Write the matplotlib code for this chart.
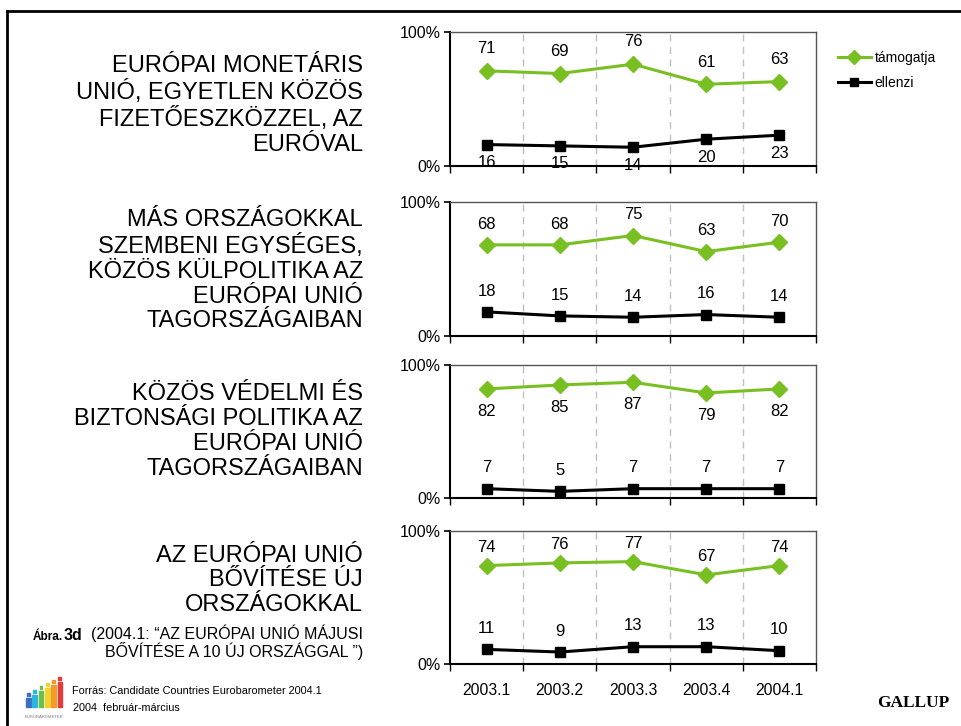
import matplotlib
matplotlib.use("Agg")
import matplotlib.pyplot as plt
from matplotlib.lines import Line2D
from matplotlib.patches import Rectangle

plt.rcParams['font.family'] = ['Liberation Sans', 'DejaVu Sans']

# ---------------- data ----------------
periods = ["2003.1", "2003.2", "2003.3", "2003.4", "2004.1"]
series_names = ["támogatja", "ellenzi"]

titles = [
    "EURÓPAI MONETÁRIS\nUNIÓ, EGYETLEN KÖZÖS\nFIZETŐESZKÖZZEL, AZ\nEURÓVAL",
    "MÁS ORSZÁGOKKAL\nSZEMBENI EGYSÉGES,\nKÖZÖS KÜLPOLITIKA AZ\nEURÓPAI UNIÓ\nTAGORSZÁGAIBAN",
    "KÖZÖS VÉDELMI ÉS\nBIZTONSÁGI POLITIKA AZ\nEURÓPAI UNIÓ\nTAGORSZÁGAIBAN",
    "AZ EURÓPAI UNIÓ\nBŐVÍTÉSE ÚJ\nORSZÁGOKKAL",
]

support_1 = [71, 69, 76, 61, 63]
oppose_1 = [16, 15, 14, 20, 23]
support_2 = [68, 68, 75, 63, 70]
oppose_2 = [18, 15, 14, 16, 14]
support_3 = [82, 85, 87, 79, 82]
oppose_3 = [7, 5, 7, 7, 7]
support_4 = [74, 76, 77, 67, 74]
oppose_4 = [11, 9, 13, 13, 10]

supports = [support_1, support_2, support_3, support_4]
opposes = [oppose_1, oppose_2, oppose_3, oppose_4]

y_tick_labels = ["0%", "100%"]

# ---------------- styling ----------------
GREEN = "#78C022"
BLACK = "#000000"
W, H = 961, 726

fig = plt.figure(figsize=(W / 100, H / 100), dpi=100)
fig.patch.set_facecolor("white")

# panel geometry in pixels (top, bottom)
panels_px = [(32, 166), (202, 336), (365, 498), (531, 664)]
ax_left, ax_right = 450, 816
title_centers = [105.5, 270.5, 431.5, 580.5]
# label offsets (points): +above, -below
sup_off = [16, 15, -16, 13]
opp_off = [-13, 15, 15, 15]

xs = list(range(len(periods)))
axes = []
for i, (top, bot) in enumerate(panels_px):
    ax = fig.add_axes([ax_left / W, 1 - bot / H, (ax_right - ax_left) / W, (bot - top) / H])
    axes.append(ax)
    ax.set_xlim(-0.5, len(periods) - 0.5)
    ax.set_ylim(0, 100)
    ax.plot(xs, supports[i], color=GREEN, lw=2.2, marker="D", markersize=8,
            markeredgecolor=GREEN, markerfacecolor=GREEN, label=series_names[0],
            zorder=3, clip_on=False)
    ax.plot(xs, opposes[i], color=BLACK, lw=2.2, marker="s", markersize=7,
            label=series_names[1], zorder=3, clip_on=False)
    for x, v in zip(xs, supports[i]):
        ax.annotate(str(v), (x, v), xytext=(0, sup_off[i]), textcoords="offset points",
                    ha="center", va="center", fontsize=12, annotation_clip=False)
    for x, v in zip(xs, opposes[i]):
        ax.annotate(str(v), (x, v), xytext=(0, opp_off[i]), textcoords="offset points",
                    ha="center", va="center", fontsize=12, annotation_clip=False)
    # vertical dashed separators
    for b in [k + 0.5 for k in range(len(periods) - 1)]:
        ax.axvline(b, color="#C0C0C0", lw=1, ls=(0, (5, 4)), zorder=1)
    ax.set_yticks([0, 100])
    ax.set_yticklabels(y_tick_labels, fontsize=11.5)
    ax.tick_params(axis="y", direction="out", length=4, width=1.2, pad=3)
    ax.set_xticks([k - 0.5 for k in range(len(periods) + 1)])
    ax.set_xticklabels([])
    ax.set_xticks(xs, minor=True)
    ax.tick_params(axis="x", which="major", direction="out", length=5, width=1)
    ax.tick_params(axis="x", which="minor", length=0, labelsize=11.3, pad=14)
    if i == len(panels_px) - 1:
        ax.set_xticklabels(periods, minor=True)
    for s in ["left", "bottom"]:
        ax.spines[s].set_color("black")
        ax.spines[s].set_linewidth(1.5)
    for s in ["top", "right"]:
        ax.spines[s].set_color("#555555")
        ax.spines[s].set_linewidth(1.0)
    # title to the left
    fig.text(363 / W, 1 - title_centers[i] / H, titles[i], ha="right", va="center",
             fontsize=17, linespacing=1.17, multialignment="right")

# legend
handles = [Line2D([], [], color=GREEN, lw=2.2, marker="D", markersize=7),
           Line2D([], [], color=BLACK, lw=2.2, marker="s", markersize=6)]
fig.legend(handles, series_names, loc="upper left", bbox_to_anchor=(832 / W, 1 - 45 / H),
           frameon=False, fontsize=10, handlelength=2.4, handletextpad=0.25,
           labelspacing=0.8, borderaxespad=0)

# subtitle and figure label
fig.text(363 / W, 1 - 642 / H, "(2004.1: “AZ EURÓPAI UNIÓ MÁJUSI\nBŐVÍTÉSE A 10 ÚJ ORSZÁGGAL ”)",
         ha="right", va="center", fontsize=11.5, linespacing=0.98, multialignment="right")
fig.text(33 / W, 1 - 637 / H, "Ábra.", ha="left", va="center", fontsize=8.5, fontweight="bold")
fig.text(64 / W, 1 - 636 / H, "3d", ha="left", va="center", fontsize=11.5, fontweight="bold")

# source
fig.text(72 / W, 1 - 691 / H, "Forrás: Candidate Countries Eurobarometer 2004.1",
         ha="left", va="center", fontsize=7.8)
fig.text(73 / W, 1 - 708 / H, "2004  február-március", ha="left", va="center", fontsize=7.8)

# GALLUP
fig.text(913 / W, 1 - 703 / H, "GALLUP", ha="center", va="center", fontsize=12.5,
         fontweight="bold", family=["Liberation Serif", "DejaVu Serif"])

# frame
fig.add_artist(Line2D([7 / W, 7 / W], [0, 1 - 11 / H], color="black", lw=2, transform=fig.transFigure))
fig.add_artist(Line2D([7 / W, 1], [1 - 11 / H, 1 - 11 / H], color="black", lw=2, transform=fig.transFigure))

# Eurobarometer logo (decorative)
logo_cols = ["#3B6FC4", "#2FB5D8", "#6CC04A", "#F2D22E", "#F39A2B", "#E23B3B"]
logo_tops = [698, 695, 691, 688, 685, 682]
for k, (c, t) in enumerate(zip(logo_cols, logo_tops)):
    x0 = 26 + k * 6.3
    fig.add_artist(Rectangle((x0 / W, 1 - 707 / H), 4.6 / W, (707 - t) / H, color=c,
                             transform=fig.transFigure))
    fig.add_artist(Rectangle(((x0 + 0.9) / W, 1 - (t - 2) / H), 2.8 / W, 2.8 / H, color=c,
                             transform=fig.transFigure))
fig.text(44 / W, 1 - 717 / H, "EUROBAROMETER", ha="center", va="center", fontsize=3,
         color="#777777")

fig.savefig("out.png", dpi=100)
